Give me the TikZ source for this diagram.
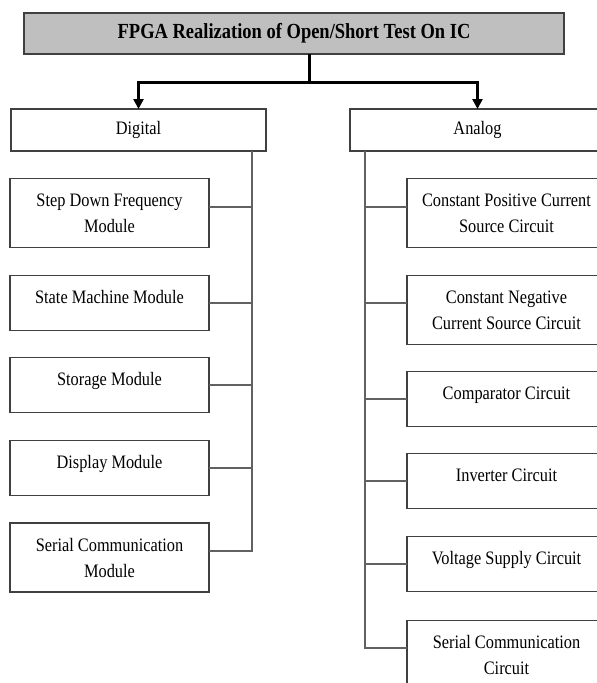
\documentclass[tikz,border=0pt]{standalone}
\usepackage{fontspec}
\setmainfont[FakeStretch=0.86]{Liberation Serif}
\usetikzlibrary{arrows.meta}
\begin{document}
\begin{tikzpicture}[x=1pt,y=-1pt,
  box/.style={draw=black!75, line width=1.1pt, fill=white, inner sep=0pt, outer sep=0pt, align=center, font=\fontsize{19}{26}\selectfont},
  dbox/.style={box, minimum width=199pt, minimum height=69pt},
  sbox/.style={box, minimum width=199pt, minimum height=55pt, text height=13.5pt, text depth=13pt},
  catbox/.style={box, minimum width=255pt, minimum height=42pt},
  conn/.style={draw=black!62, line width=1.1pt},
  heavy/.style={draw=black, line width=3pt},
  harrow/.style={heavy, -{Triangle[length=10pt,width=10pt]}}
]
\useasboundingbox (0,0) rectangle (597,683);
\clip (0,0) rectangle (597,683);

% title
\node[box, fill=black!25, minimum width=540pt, minimum height=41pt, font=\fontsize{21.5}{26}\selectfont\bfseries] (top) at (294,33.5) {FPGA Realization of Open/Short Test On IC};

% categories
\node[catbox] (dig) at (138.5,130) {Digital};
\node[catbox] (ana) at (477.5,130) {Analog};

\coordinate (jn) at (309,82);
\draw[heavy] ([xshift=15pt]top.south) -- (jn);
\draw[harrow] (jn) -| (dig.north);
\draw[harrow] (jn) -| (ana.north);

% digital modules
\node[dbox] (sd) at (109.5,213) {Step Down Frequency\\Module};
\node[sbox] (sm) at (109.5,303) {State Machine Module};
\node[sbox] (st) at (109.5,385) {Storage Module};
\node[sbox] (dm) at (109.5,468) {Display Module};
\node[dbox] (serm) at (109.5,557.5) {Serial Communication\\Module};

% analog circuits
\node[dbox] (cp) at (506.5,213) {Constant Positive Current\\Source Circuit};
\node[dbox] (cn) at (506.5,310) {Constant Negative\\Current Source Circuit};
\node[sbox] (cmp) at (506.5,399) {Comparator Circuit};
\node[sbox] (inv) at (506.5,481) {Inverter Circuit};
\node[sbox] (vs) at (506.5,564) {Voltage Supply Circuit};
\node[dbox] (sc) at (506.5,655) {Serial Communication\\Circuit};

% trunks
\coordinate (dtr) at (252,151);
\coordinate (atr) at (365,151);

\draw[conn] ([yshift=6pt]sd.east) -| (dtr);
\draw[conn] (sm.east) -| (dtr);
\draw[conn] (st.east) -| (dtr);
\draw[conn] (dm.east) -| (dtr);
\draw[conn] ([yshift=6.5pt]serm.east) -| (dtr);

\draw[conn] ([yshift=6pt]cp.west) -| (atr);
\draw[conn] ([yshift=7pt]cn.west) -| (atr);
\draw[conn] (cmp.west) -| (atr);
\draw[conn] (inv.west) -| (atr);
\draw[conn] (vs.west) -| (atr);
\draw[conn] ([yshift=7pt]sc.west) -| (atr);
\end{tikzpicture}
\end{document}
